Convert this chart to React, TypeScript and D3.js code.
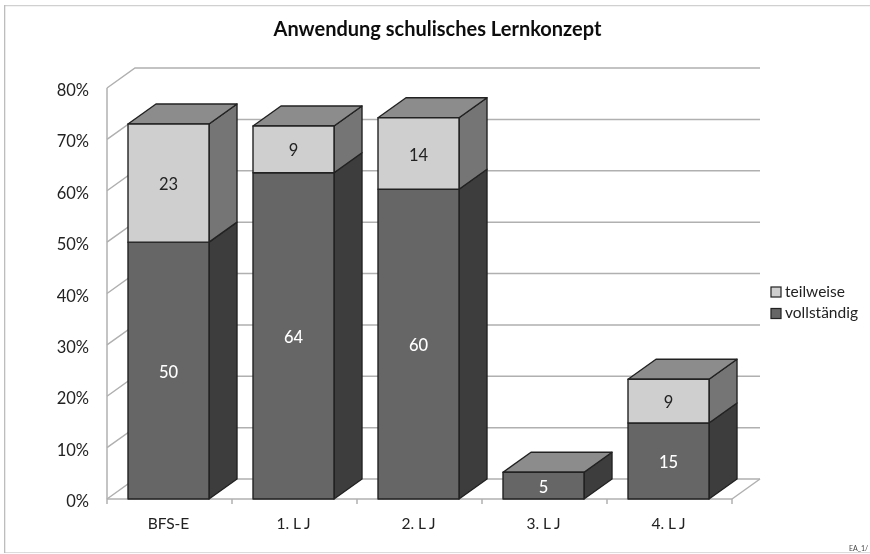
import React from 'react';
import * as d3 from 'd3';

const categories = ['BFS-E', '1. L J', '2. L J', '3. L J', '4. L J'];
// bar heights in percent
const vollstaendigPct = [50, 63.5, 60.3, 5.2, 14.8];
const teilweisePct = [23, 9.1, 13.9, 0, 8.5];
// counts printed on the bars
const vollstaendigLabels = [50, 64, 60, 5, 15];
const teilweiseLabels = [23, 9, 14, 0, 9];
const yTicks = [0, 10, 20, 30, 40, 50, 60, 70, 80];
const FONT = 'Lato, "Open Sans", sans-serif';

const depthX = 28;
const depthY = 20;
const barWidth = 81;

const xScale = d3.scaleBand<string>().domain(categories).range([107, 732]);
const yScale = d3.scaleLinear().domain([0, 80]).range([499, 88]);

const path = (pts: [number, number][]) => d3.line()(pts) + 'Z';

// one 3d box of a stacked column
function Box({x, y0, y1, front, side, top, showTop}: {x: number; y0: number; y1: number; front: string; side: string; top: string; showTop: boolean}) {
    const r = x + barWidth;
    return (
        <g stroke="#222" strokeWidth={1.4} strokeLinejoin="round">
            <path d={path([[r, y0], [r + depthX, y0 - depthY], [r + depthX, y1 - depthY], [r, y1]])} fill={side} />
            {showTop && <path d={path([[x, y1], [x + depthX, y1 - depthY], [r + depthX, y1 - depthY], [r, y1]])} fill={top} />}
            <rect x={x} y={y1} width={barWidth} height={y0 - y1} fill={front} />
        </g>
    );
}

export default function App() {
    return (
        <svg width={870} height={554} style={{position: 'absolute', left: 0, top: 0, background: '#fff'}} fontFamily={FONT}>
            <defs>
                <filter id="soft" x="0" y="0" width="100%" height="100%">
                    <feGaussianBlur stdDeviation="0.5" />
                </filter>
            </defs>
            <g filter="url(#soft)">
                <line x1={4.5} x2={870} y1={5.5} y2={5.5} stroke="#d0d0d0" strokeWidth={1.4} />
                <line x1={4.5} x2={870} y1={553} y2={553} stroke="#d0d0d0" strokeWidth={1.4} />
                <line x1={4.5} x2={4.5} y1={5} y2={553} stroke="#bdbdbd" strokeWidth={1.6} />

                <text x={437.5} y={36} textAnchor="middle" fontSize={20} fontWeight={700} fill="#111">Anwendung schulisches Lernkonzept</text>

                {/* walls and grid */}
                <g stroke="#b0b0b0" strokeWidth={1.5} fill="none">
                    {yTicks.map((t) => (
                        <path key={t} d={d3.line()([[107, yScale(t)], [107 + depthX, yScale(t) - depthY], [760, yScale(t) - depthY]]) as string} />
                    ))}
                    <line x1={107} x2={107} y1={yScale(80)} y2={yScale(0)} />
                    <line x1={107} x2={732} y1={yScale(0)} y2={yScale(0)} />
                    <line x1={732} x2={760} y1={yScale(0)} y2={yScale(0) - depthY} />
                    {[...categories.map((c) => xScale(c) as number), 732].map((x) => (
                        <line key={x} x1={x} x2={x} y1={yScale(0)} y2={yScale(0) + 5} />
                    ))}
                </g>

                {yTicks.map((t) => (
                    <text key={t} x={89} y={yScale(t) + 8} textAnchor="end" fontSize={16.5} fill="#222">{t}%</text>
                ))}

                {categories.map((c, i) => {
                    const x = (xScale(c) as number) + (xScale.bandwidth() - barWidth) / 2 - 1;
                    const v = vollstaendigPct[i];
                    const t = teilweisePct[i];
                    const cx = x + barWidth / 2;
                    return (
                        <g key={c}>
                            <Box x={x} y0={yScale(0)} y1={yScale(v)} front="#666666" side="#3d3d3d" top="#8c8c8c" showTop={t === 0} />
                            {t > 0 && <Box x={x} y0={yScale(v)} y1={yScale(v + t)} front="#cfcfcf" side="#757575" top="#8c8c8c" showTop />}
                            <text x={cx} y={yScale(v / 2) + 7} textAnchor="middle" fontSize={16.5} fontWeight={500} fill="#fff">{vollstaendigLabels[i]}</text>
                            {t > 0 && <text x={cx} y={yScale(v + t / 2) + 7} textAnchor="middle" fontSize={16.5} fill="#222">{teilweiseLabels[i]}</text>}
                            <text x={cx} y={529} textAnchor="middle" fontSize={15.5} fill="#222">{c}</text>
                        </g>
                    );
                })}

                {/* legend */}
                <rect x={771} y={287} width={10} height={10} fill="#cfcfcf" stroke="#222" strokeWidth={1.2} />
                <text x={785} y={296.5} fontSize={15.5} fill="#222">teilweise</text>
                <rect x={771} y={308.5} width={10} height={10} fill="#666666" stroke="#222" strokeWidth={1.2} />
                <text x={785} y={318} fontSize={15.5} fill="#222">vollständig</text>

                <text x={849} y={551} fontSize={7} fill="#444">EA_1/</text>
            </g>
        </svg>
    );
}
